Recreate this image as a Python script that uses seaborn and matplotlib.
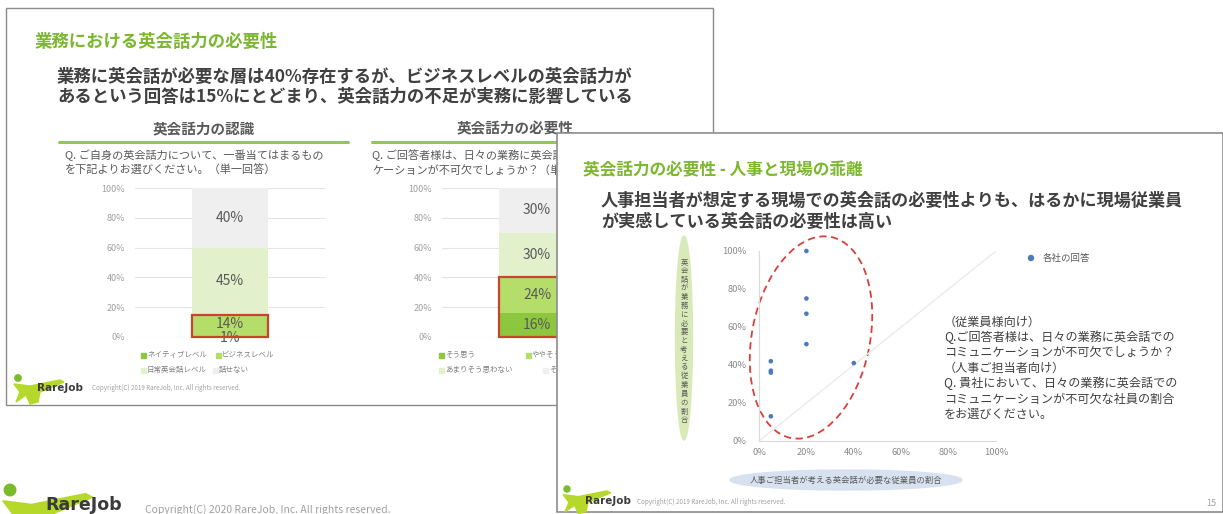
import numpy as np
import pandas as pd
import matplotlib
matplotlib.use('Agg')
import matplotlib.pyplot as plt
import seaborn as sns
from matplotlib.patches import Rectangle, Ellipse, Circle, Polygon

sns.set_theme(style='white')
plt.rcParams['font.family'] = ['Noto Sans CJK JP', 'DejaVu Sans']

W, H = 1223, 514

# ---------------- data ----------------
levels1 = ['ネイティブレベル', 'ビジネスレベル', '日常英会話レベル', '話せない']
values1 = [1, 14, 45, 40]
levels2 = ['そう思う', 'ややそう思う', 'あまりそう思わない', 'そう思わない']
values2 = [16, 24, 30, 30]
hr_share = [5, 5, 5, 5, 20, 20, 20, 20, 40]
emp_share = [13, 36, 37, 42, 51, 67, 75, 100, 41]
pct_ticks = [0, 20, 40, 60, 80, 100]
pct_labels = ['0%', '20%', '40%', '60%', '80%', '100%']

bar_colors = ['#8DC63F', '#B4DD6A', '#E2F0CC', '#EFEFEF']
GREEN = '#7CB82F'
DARK = '#404040'
MID = '#595959'
RED = '#C8452C'

fig = plt.figure(figsize=(W / 100, H / 100), dpi=100)
fig.patch.set_facecolor('white')


def px_axes(x0, y0, x1, y1, z):
    return fig.add_axes([x0 / W, 1 - y1 / H, (x1 - x0) / W, (y1 - y0) / H], zorder=z)


def overlay(z):
    ax = fig.add_axes([0, 0, 1, 1], zorder=z)
    ax.set_xlim(0, W)
    ax.set_ylim(H, 0)
    ax.axis('off')
    return ax


def logo(ax, x, y, s, tsize, tdx, tdy, va='center'):
    ax.add_patch(Circle((x, y), 3.2 * s, color='#7DBB2E', zorder=5))
    body = [(-4, 6), (12, 8), (42, 2), (46, 4), (22, 14), (20, 24),
            (12, 26), (8, 17), (-2, 24), (2, 14)]
    ax.add_patch(Polygon([(x + dx * s, y + dy * s) for dx, dy in body],
                         closed=True, color='#B5D82A', zorder=4))
    ax.text(x + tdx * s, y + tdy * s, 'RareJob', fontsize=tsize, fontweight='bold',
            color='#3A3A3A', va=va, ha='left', family=['DejaVu Sans'], zorder=6)


# ---------------- slide 1 background ----------------
bg = overlay(0)
bg.add_patch(Rectangle((6, 8), 707, 397, facecolor='white', edgecolor='#8C8C8C', lw=1))
bg.text(35, 42, '業務における英会話力の必要性', fontsize=12.5, fontweight='bold',
        color=GREEN, va='center')
bg.text(57, 77, '業務に英会話が必要な層は40%存在するが、ビジネスレベルの英会話力が',
        fontsize=12.5, fontweight='bold', color=DARK, va='center')
bg.text(57, 97, 'あるという回答は15%にとどまり、英会話力の不足が実務に影響している',
        fontsize=12.5, fontweight='bold', color=DARK, va='center')
bg.text(204, 128, '英会話力の認識', fontsize=10.5, fontweight='bold', color=MID,
        ha='center', va='center')
bg.text(515, 128, '英会話力の必要性', fontsize=10.5, fontweight='bold', color=MID,
        ha='center', va='center')
bg.plot([59, 348], [142, 142], color='#92C94A', lw=2.2)
bg.plot([372, 700], [142, 142], color='#92C94A', lw=2.2)
bg.text(65, 155, 'Q. ご自身の英会話力について、一番当てはまるもの', fontsize=8, color=MID, va='center')
bg.text(65, 170, 'を下記よりお選びください。（単一回答）', fontsize=8, color=MID, va='center')
bg.text(372, 155, 'Q. ご回答者様は、日々の業務に英会話でのコミュニ', fontsize=8, color=MID, va='center')
bg.text(372, 170, 'ケーションが不可欠でしょうか？（単一回答）', fontsize=8, color=MID, va='center')

leg1_pos = [(141, 355), (216, 355), (141, 370), (213, 370)]
leg2_pos = [(439, 355), (526, 355), (439, 370), (543, 370)]
for labels, poss in ((levels1, leg1_pos), (levels2, leg2_pos)):
    for lab, col, (lx, ly) in zip(labels, bar_colors, poss):
        bg.add_patch(Rectangle((lx, ly - 2.5), 5, 5, color=col))
        bg.text(lx + 6, ly, lab, fontsize=5.4, color='#7F7F7F', va='center')

logo(bg, 18, 378, 1.0, 7.5, 19, 10)
bg.text(92, 388, 'Copyright(C) 2019 RareJob, Inc. All rights reserved.', fontsize=4.5,
        color='#A0A0A0', va='center')

# big logo at page bottom
logo(bg, 10, 490, 1.8, 12.5, 19.5, 3.5, va='top')
bg.text(145, 504, 'Copyright(C) 2020 RareJob, Inc. All rights reserved.', fontsize=7.5,
        color='#A0A0A0', va='top')

# ---------------- stacked bar charts ----------------
BW = 0.395


def stacked(ax, values, box_top, first_offset=0):
    cum = np.cumsum(values)
    for i in range(len(values) - 1, -1, -1):
        sns.barplot(x=[0], y=[cum[i]], color=bar_colors[i], width=BW, saturation=1,
                    linewidth=0, errorbar=None, ax=ax)
    ax.set_xlim(-0.5, 0.5)
    ax.set_ylim(0, 100)
    ax.set_yticks(pct_ticks)
    ax.set_yticklabels(pct_labels)
    ax.set_xticks([])
    ax.set_xlabel('')
    ax.set_ylabel('')
    ax.yaxis.grid(True, color='#E3E3E3', lw=0.8)
    ax.set_axisbelow(True)
    for sp in ax.spines.values():
        sp.set_visible(False)
    ax.tick_params(axis='y', length=0, pad=7, labelsize=6.5, labelcolor='#A0A0A0')
    prev = 0
    for k, v in enumerate(values):
        ypos = prev + v / 2
        if k == 0:
            ypos += first_offset
        elif k == 1:
            ypos -= first_offset * 0.5
        ax.text(0, ypos, f'{v}%', ha='center', va='center', fontsize=10,
                color=MID, zorder=6, clip_on=False)
        prev += v
    ax.add_patch(Rectangle((-BW / 2, 0), BW, box_top, fill=False, ec=RED, lw=1.6,
                           clip_on=False, zorder=7))


ax1 = px_axes(135, 188, 325, 337, 1)
stacked(ax1, values1, 15, first_offset=-1.5)
ax2 = px_axes(442, 188, 632, 337, 1)
stacked(ax2, values2, 40)

# ---------------- slide 2 ----------------
s2 = overlay(2)
s2.add_patch(Rectangle((557, 133), 666, 379, facecolor='white', edgecolor='#8C8C8C', lw=1.2))
s2.text(583, 170, '英会話力の必要性 - 人事と現場の乖離', fontsize=12, fontweight='bold',
        color=GREEN, va='center')
s2.text(601, 201, '人事担当者が想定する現場での英会話の必要性よりも、はるかに現場従業員',
        fontsize=12.3, fontweight='bold', color=DARK, va='center')
s2.text(601, 222, 'が実感している英会話の必要性は高い',
        fontsize=12.3, fontweight='bold', color=DARK, va='center')

# axis label ellipses
s2.add_patch(Ellipse((684, 338), 17, 204, color='#D9EAB9'))
ylab = '英会話が業務に必要と考える従業員の割合'
for k, ch in enumerate(ylab):
    s2.text(684, 262 + k * 8.8, ch, fontsize=5.3, color=MID, ha='center', va='center')
s2.add_patch(Ellipse((846, 480), 232, 20, color='#D7E1EF'))
s2.text(846, 480, '人事ご担当者が考える英会話が必要な従業員の割合', fontsize=6,
        color=MID, ha='center', va='center')

# red dashed ellipse
s2.add_patch(Ellipse((811, 337.5), 205, 118, angle=-78.7, fill=False, ec='#D9403A',
                     lw=1.3, ls=(0, (4, 2.5))))

# legend
s2.add_patch(Circle((1031, 258), 2.5, color='#4E7AB8'))
s2.text(1043, 258, '各社の回答', fontsize=6.8, color=MID, va='center')

notes = ['（従業員様向け）',
         'Q.ご回答者様は、日々の業務に英会話での',
         'コミュニケーションが不可欠でしょうか？',
         '（人事ご担当者向け）',
         'Q. 貴社において、日々の業務に英会話での',
         'コミュニケーションが不可欠な社員の割合',
         'をお選びください。']
for k, line in enumerate(notes):
    s2.text(944, 322 + k * 15.4, line, fontsize=8.7, color=DARK, va='center')

logo(s2, 567, 489, 0.95, 7.5, 19, 13)
s2.text(637, 502, 'Copyright(C) 2019 RareJob, Inc. All rights reserved.', fontsize=4.5,
        color='#A0A0A0', va='center')
s2.text(1211, 503, '15', fontsize=6.5, color='#A0A0A0', va='center', ha='center')

# scatter
ax3 = px_axes(759, 251, 996, 441, 3)
ax3.patch.set_alpha(0)
ax3.plot([0, 100], [0, 100], color='#EBEBEB', lw=1, zorder=1)
sns.scatterplot(x=hr_share, y=emp_share, color='#4E7AB8', s=11, edgecolor='none',
                ax=ax3, zorder=3, clip_on=False, legend=False)
ax3.set_xlim(0, 100)
ax3.set_ylim(0, 100)
ax3.set_xticks(pct_ticks)
ax3.set_xticklabels(pct_labels)
ax3.set_yticks(pct_ticks)
ax3.set_yticklabels(pct_labels)
ax3.set_xlabel('')
ax3.set_ylabel('')
for side in ('top', 'right'):
    ax3.spines[side].set_visible(False)
for side in ('left', 'bottom'):
    ax3.spines[side].set_color('#D9D9D9')
    ax3.spines[side].set_linewidth(0.8)
ax3.tick_params(axis='x', length=0, pad=5, labelsize=6.7, labelcolor='#8A8A8A')
ax3.tick_params(axis='y', length=0, pad=9, labelsize=6.7, labelcolor='#8A8A8A')

fig.savefig('out.png', dpi=100)
